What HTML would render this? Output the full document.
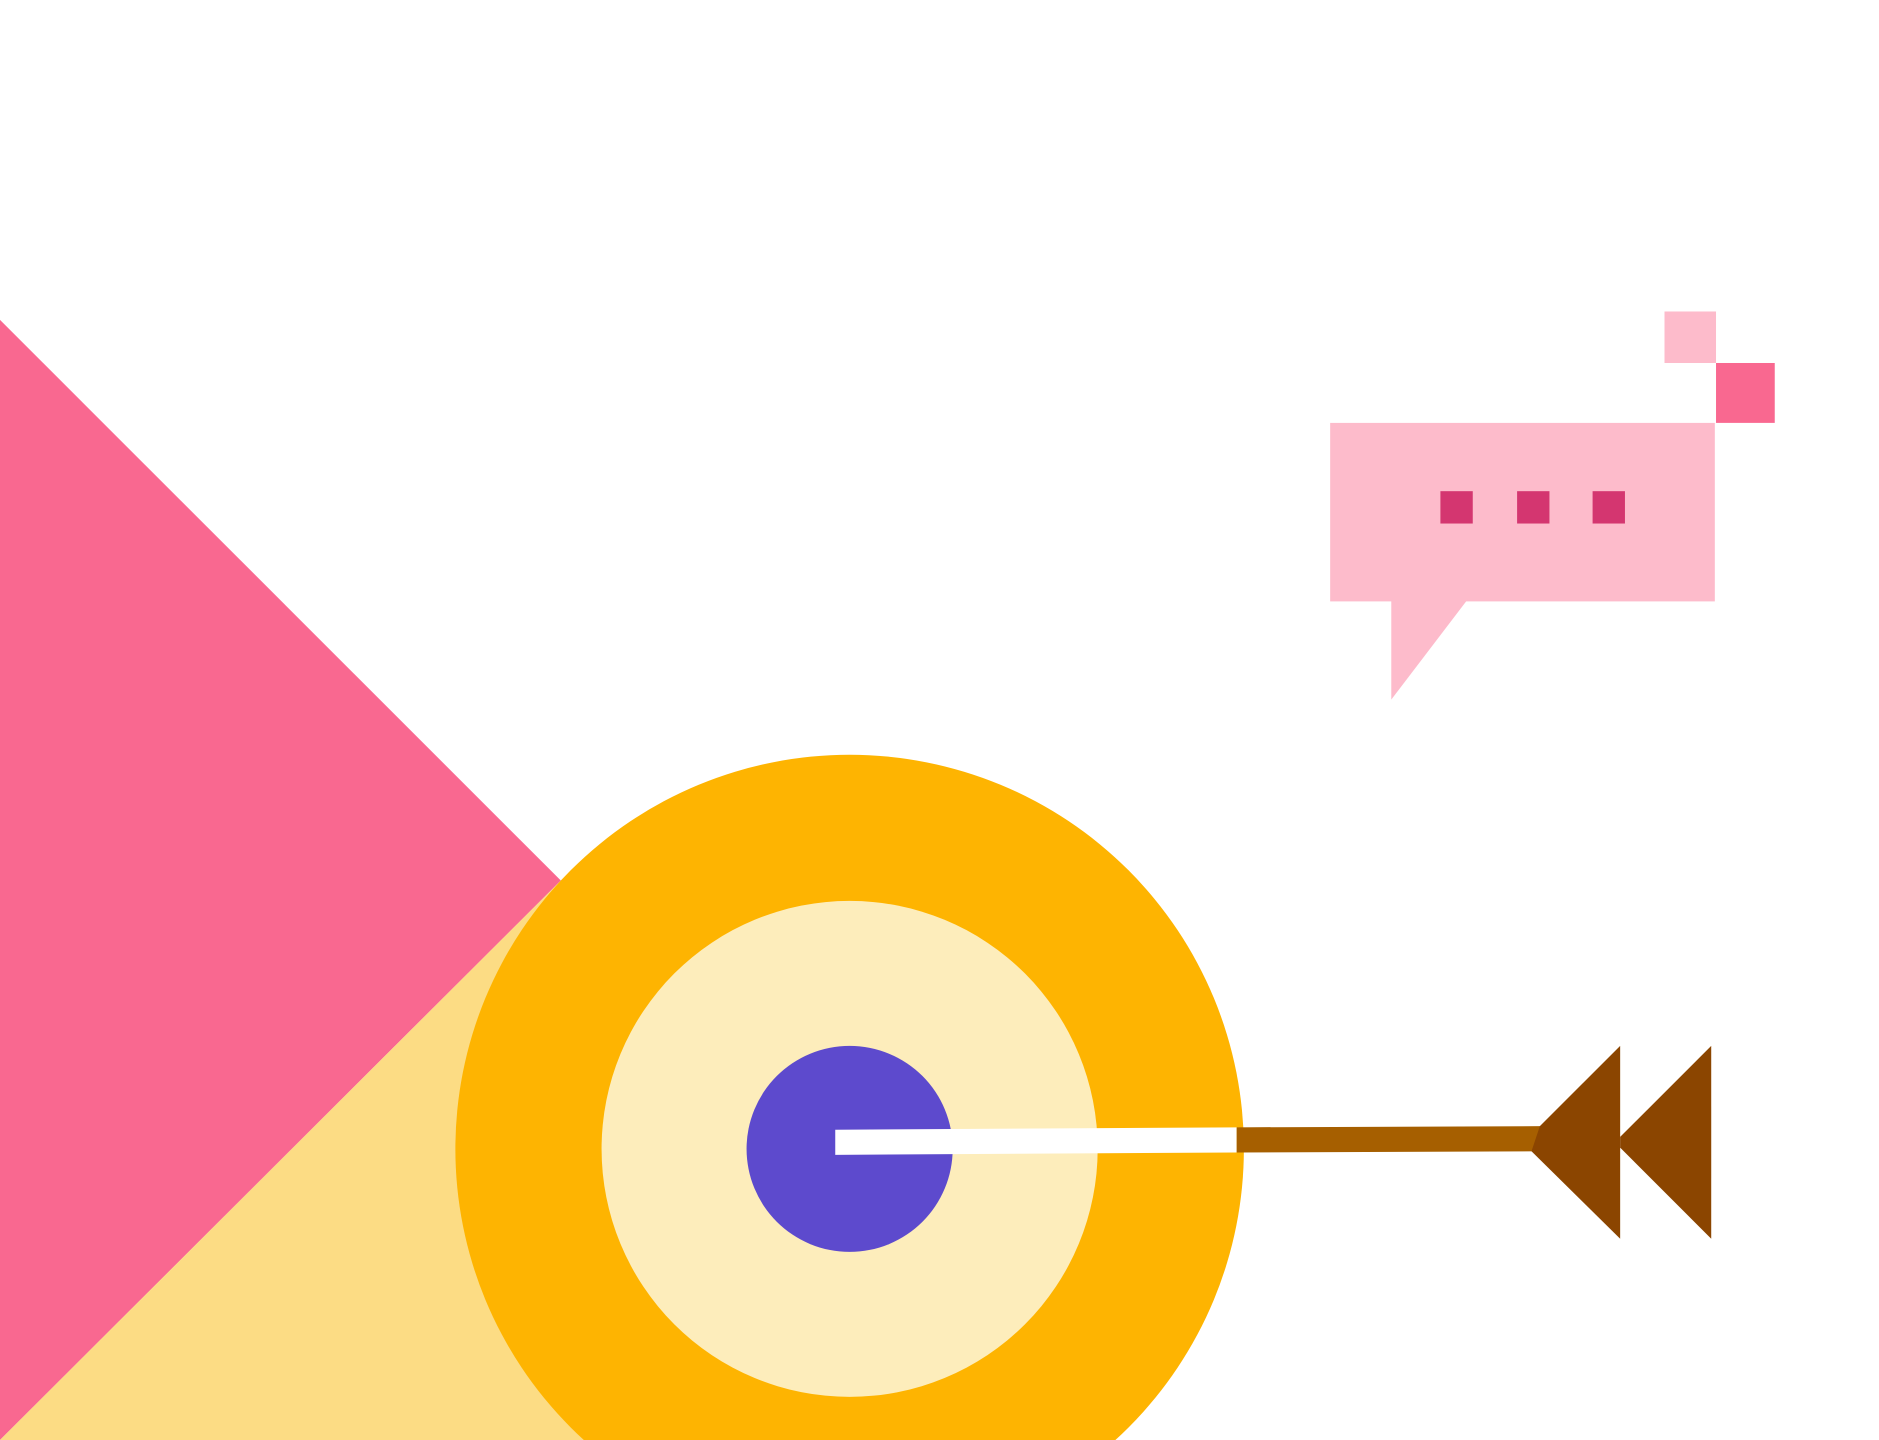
<!DOCTYPE html>
<html><head><style>html,body{margin:0;padding:0;background:#fff;overflow:hidden;width:1879px;height:1440px}svg{display:block;position:absolute;left:0;top:0}</style></head>
<body>
<svg width="1879" height="1440" viewBox="0 0 1568 1202" preserveAspectRatio="none" xmlns="http://www.w3.org/2000/svg">
<rect width="1568" height="1202" fill="#fff"/>
<polygon points="0,267 468,735 0,1202" fill="#F96890"/>
<polygon points="0,1202 468,735 490,1202" fill="#FCDC84"/>
<clipPath id="c"><rect x="0" y="0" width="1568" height="1202"/></clipPath>
<g clip-path="url(#c)">
<circle cx="709" cy="959" r="329" fill="#FEB401"/>
<circle cx="709" cy="959" r="207" fill="#FDEDBB"/>
<circle cx="709" cy="959" r="86" fill="#5D4ACD"/>
</g>
<polygon points="697,943 1032,941 1032,962 697,964" fill="#fff"/>
<polygon points="1032,941 1287,940 1287,961 1032,962" fill="#A65F00"/>
<polygon points="1352,873 1285,940 1278,961 1352,1034" fill="#8B4500"/>
<polygon points="1428,873 1352,949 1352,958 1428,1034" fill="#8B4500"/>
<rect x="1110" y="353" width="321" height="149" fill="#FDBBCB"/>
<polygon points="1161,500 1161,584 1225,500" fill="#FDBBCB"/>
<rect x="1202" y="410" width="27" height="27" fill="#D43670"/>
<rect x="1266" y="410" width="27" height="27" fill="#D43670"/>
<rect x="1329" y="410" width="27" height="27" fill="#D43670"/>
<rect x="1389" y="260" width="43" height="43" fill="#FDBBCB"/>
<rect x="1432" y="303" width="49" height="50" fill="#F96890"/>
</svg>
</body></html>
